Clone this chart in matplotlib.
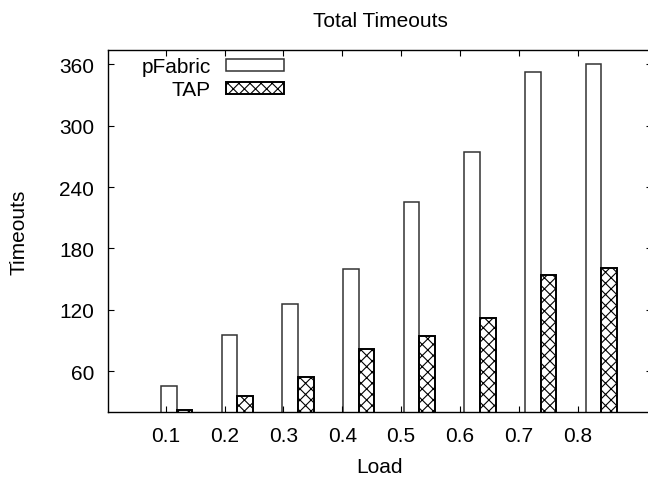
import matplotlib
matplotlib.use('Agg')
import matplotlib.pyplot as plt
import numpy as np

# data
loads = ['0.1', '0.2', '0.3', '0.4', '0.5', '0.6', '0.7', '0.8']
pfabric = [45, 95, 126, 160, 225, 274, 352, 360]
tap = [22, 36, 54, 82, 94, 112, 154, 161]

plt.rcParams['font.family'] = ['Liberation Sans', 'DejaVu Sans']
plt.rcParams['hatch.linewidth'] = 0.8
fs = 15

fig = plt.figure(figsize=(6.48, 4.81), dpi=100)
# right border sits just outside the image, like the gnuplot original
ax = fig.add_axes([108 / 648, 68 / 481, 544 / 648, 362 / 481])

x = np.arange(1, len(loads) + 1)
w = 0.257
ax.bar(x - w / 2, pfabric, width=w, color='white', edgecolor='#333333',
       linewidth=1.1, label='pFabric')
ax.bar(x + w / 2, tap, width=w, color='white', edgecolor='black',
       linewidth=1.4, hatch='xxx', label='TAP')

ax.set_xlim(-0.131, 8.836)
ax.set_ylim(20, 374)

# gnuplot spaced the tic labels slightly tighter than the clusters
ax.set_xticks(0.82 + 0.97 * np.arange(len(loads)))
ax.set_xticklabels(loads)
ax.set_yticks([60, 120, 180, 240, 300, 360])

ax.tick_params(direction='in', length=4.5, width=0.8, top=True, right=True,
               labelsize=fs, pad=10)
for s in ax.spines.values():
    s.set_linewidth(1.0)

ax.set_title('Total Timeouts', fontsize=fs, pad=17)
ax.set_xlabel('Load', fontsize=fs, labelpad=9)
ax.set_ylabel('Timeouts', fontsize=fs, labelpad=22)

ax.legend(loc='upper right', bbox_to_anchor=(284 / 648, 1 - 58 / 481),
          bbox_transform=fig.transFigure, frameon=False, markerfirst=False,
          fontsize=fs, handlelength=2.8, handleheight=0.52,
          handletextpad=0.7, labelspacing=0.2, borderpad=0, borderaxespad=0)

fig.savefig('out.png', dpi=100)
